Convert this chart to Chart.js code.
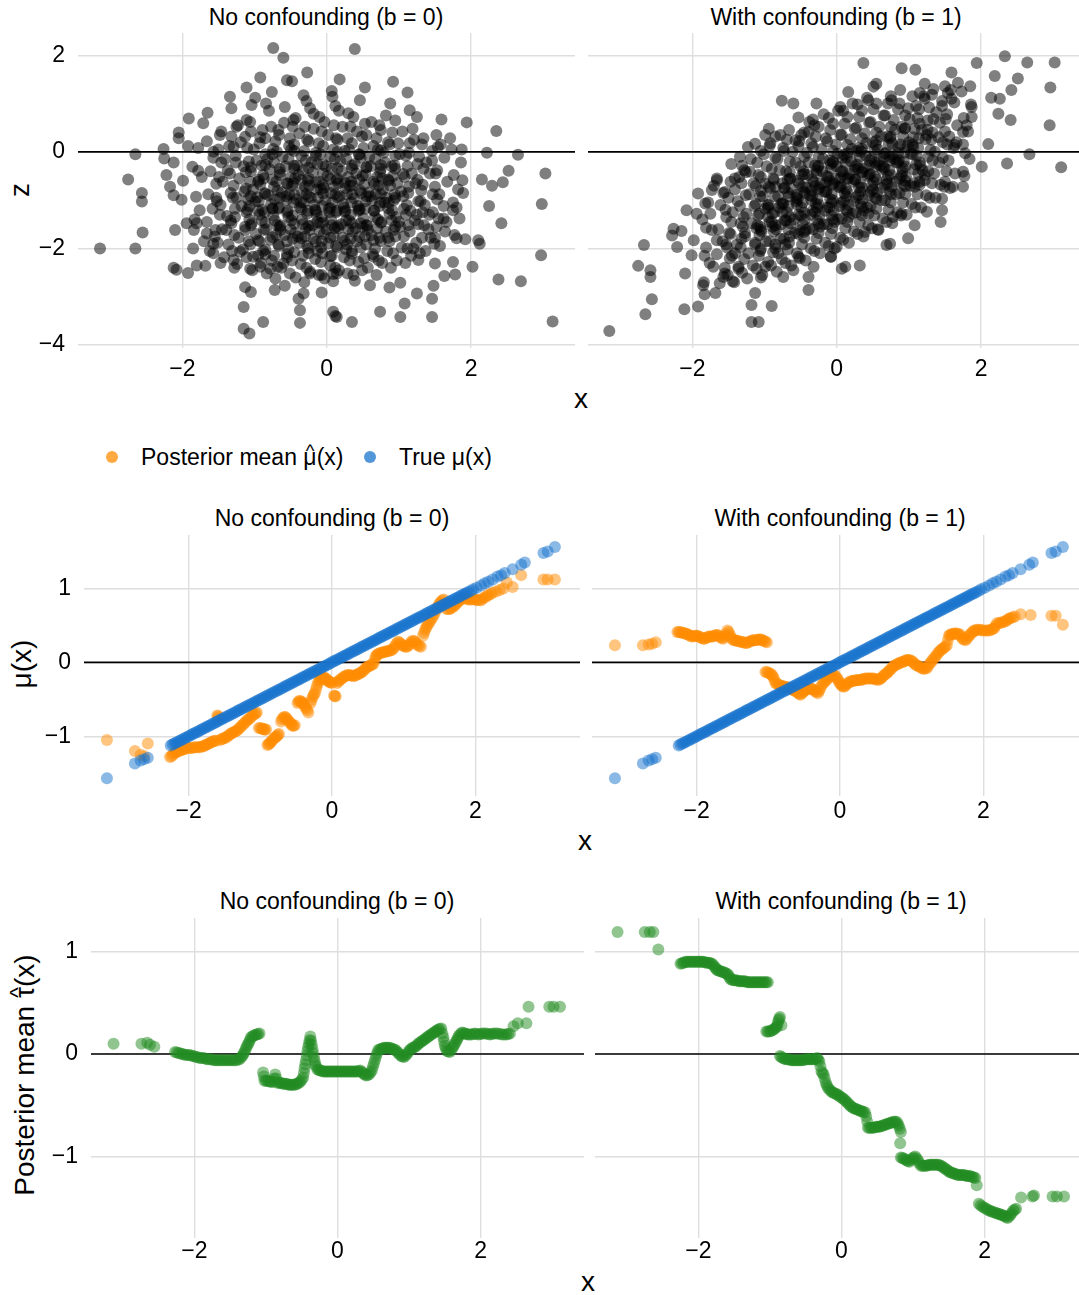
<!DOCTYPE html>
<html>
<head>
<meta charset="utf-8">
<script src="https://cdn.jsdelivr.net/npm/chart.js@4.4.1/dist/chart.umd.min.js"></script>
<style>
  body { margin: 0; width: 1079px; height: 1295px; overflow: hidden; background: #fff; position: relative;
         font-family: "Liberation Sans", Arial, sans-serif; color: #000; }
  .panel { position: absolute; }
  .txt { position: absolute; white-space: nowrap; transform: translate(-50%, -50%); font-size: 23px; line-height: 1; }
  .axt { font-size: 28px; }
  .rot { transform: translate(-50%, -50%) rotate(-90deg); }
  .leg { position: absolute; white-space: nowrap; transform: translate(0, -50%); font-size: 23px; line-height: 1; }
  .dot { position: absolute; width: 12px; height: 12px; border-radius: 50%; transform: translate(-50%, -50%); }
  .hat { position: relative; display: inline-block; }
  .hat i { position: absolute; left: 0; right: 0; top: -0.2em; text-align: center; font-style: normal; font-size: 0.8em; }
</style>
</head>
<body>

<div class="txt" style="left:326px;top:17px">No confounding (b = 0)</div>
<div class="txt" style="left:836px;top:17px">With confounding (b = 1)</div>
<div class="txt axt" style="left:581px;top:399px">x</div>
<div class="txt axt rot" style="left:20px;top:190px">z</div>

<div class="dot" style="left:112px;top:457px;background:rgba(255,140,0,0.75)"></div>
<div class="leg" style="left:141px;top:457px">Posterior mean <span class="hat">μ<i>^</i></span>(x)</div>
<div class="dot" style="left:370px;top:457px;background:rgba(24,116,205,0.75)"></div>
<div class="leg" style="left:399px;top:457px">True μ(x)</div>

<div class="txt" style="left:332px;top:518px">No confounding (b = 0)</div>
<div class="txt" style="left:840px;top:518px">With confounding (b = 1)</div>
<div class="txt axt" style="left:585px;top:841px">x</div>
<div class="txt axt rot" style="left:22px;top:664px">μ(x)</div>

<div class="txt" style="left:337px;top:901px">No confounding (b = 0)</div>
<div class="txt" style="left:841px;top:901px">With confounding (b = 1)</div>
<div class="txt axt" style="left:588px;top:1282px">x</div>
<div class="txt axt rot" style="left:25px;top:1075px">Posterior mean <span class="hat">τ<i>^</i></span>(x)</div>

<script>
// ── Data ──────────────────────────────────────────────────────────────
const xTicks = [-2, 0, 2];
const zTicks = [-4, -2, 0, 2];
const muTicks = [-1, 0, 1];
const tauTicks = [-1, 0, 1];

// top row: (x, z) with b = 0
const zNoConf = [
  [-3.14,-2.0],[-2.65,-2.0],[-2.65,-0.05],[-2.75,-0.57],[-2.56,-0.85],[-2.56,-1.03],[-2.55,-1.67],
  [-2.26,0.06],[-2.25,-0.14],[-2.12,-0.22],[-2.05,0.40],[-2.05,0.28],[-1.92,0.12],[-1.91,0.69],
  [-1.71,0.59],[-1.65,0.81],[-1.78,-0.39],[-2.22,-0.48],[-2.17,-0.72],[-2.12,-0.90],[-2.01,-0.99],
  [-1.99,-0.60],[-2.12,-2.40],[-2.08,-2.44],[-1.92,-2.51],[-1.80,-2.35],[-1.85,-2.0],[-1.94,-1.48],
  [-2.10,-1.62],[-1.68,-2.36],[-1.80,-1.48],[-1.34,1.14],[-1.11,1.33],[-0.92,1.54],[-0.99,1.12],
  [-1.32,0.90],[-1.04,0.97],[-0.74,2.15],[-0.60,1.95],[-0.55,1.48],[-0.48,1.46],[-0.27,1.64],
  [0.18,1.50],[-0.76,1.24],[-0.84,1.00],[-0.32,1.17],[0.08,1.14],[-1.48,0.35],[-1.25,0.52],
  [-1.11,0.66],[-1.13,0.31],[-1.29,0.10],[-1.57,0.0],[-0.58,0.93],[-0.46,0.66],[-0.18,0.79],
  [-1.13,-2.80],[-1.05,-2.90],[-1.15,-3.21],[-1.15,-3.66],[-1.07,-3.76],[-0.88,-3.52],[-0.72,-2.86],
  [-0.58,-2.77],[-0.37,-3.54],[-0.39,-3.04],[-0.37,-3.28],[-0.32,-2.93],[-0.07,-2.91],[0.09,-3.31],
  [0.14,-3.42],[0.35,-3.52],[-0.78,-2.42],[-0.92,-2.38],[-1.06,-2.42],[-1.29,-2.24],[-1.57,-2.10],
  [-1.66,-1.69],[-1.57,-1.90],[-1.39,-1.62],[-1.20,-2.07],[-1.02,-2.17],[-0.60,-2.31],[-0.23,-2.52],
  [-0.07,-2.55],[0.14,-2.52],
  [0.39,2.13],[0.53,1.33],[0.92,1.45],[1.12,1.23],[0.07,1.26],[0.46,1.07],[0.88,1.00],[1.15,0.86],
  [1.25,0.72],[1.59,0.67],[1.94,0.61],[2.35,0.43],[1.52,0.35],[1.71,0.28],[1.87,0.05],[2.22,-0.02],
  [2.65,-0.06],[2.52,-0.39],[2.15,-0.57],[2.29,-0.70],[2.44,-0.63],[3.03,-0.45],[2.98,-1.08],
  [2.25,-1.12],[2.42,-1.48],[1.89,-0.85],[1.88,-0.59],[1.75,-1.21],[1.62,-1.38],[1.80,-1.79],
  [1.92,-1.81],[2.10,-1.83],[2.12,-1.90],[2.02,-2.38],[1.75,-2.28],[1.50,-2.31],[2.38,-2.64],
  [2.69,-2.68],[2.97,-2.14],[3.13,-3.51],[1.48,-2.77],[1.78,-2.54],[1.63,-2.57],[1.46,-3.04],
  [1.46,-3.42],[1.02,-3.42],[0.74,-3.31],[0.12,-3.40],[1.08,-3.14],[1.25,-2.93],[0.60,-2.76],
  [0.87,-2.81],[0.09,-2.53],[0.39,-2.67],[1.02,-2.71],[1.27,-2.24],[1.50,-1.78],[1.20,-2.0],
  [-1.84,-1.62],[-1.76,-1.21],[-1.81,-0.93],[-1.73,-0.52],[-1.86,-0.31],[-1.78,0.08],[-1.70,-1.85],[-1.83,-1.40],
  [-1.62,-2.05],[-1.55,-1.75],[-1.66,-1.45],[-1.58,-1.18],[-1.64,-0.88],[-1.53,-0.66],[-1.61,-0.40],[-1.57,-0.12],[-1.66,0.22],[-1.52,-1.02],
  [-1.42,-2.18],[-1.36,-1.92],[-1.45,-1.60],[-1.38,-1.33],[-1.47,-1.10],[-1.33,-0.85],[-1.44,-0.62],[-1.37,-0.38],[-1.41,-0.15],[-1.35,0.12],[-1.46,0.42],[-1.32,-1.48],
  [-1.24,-2.32],[-1.16,-2.02],[-1.22,-1.78],[-1.13,-1.55],[-1.27,-1.35],[-1.18,-1.12],[-1.25,-0.95],[-1.12,-0.76],[-1.21,-0.55],[-1.15,-0.30],[-1.26,-0.08],[-1.19,0.20],[-1.23,0.55],[-1.11,-1.25],
  [-1.03,-2.45],[-0.95,-2.15],[-1.06,-1.92],[-0.98,-1.70],[-1.04,-1.48],[-0.93,-1.30],[-1.07,-1.12],[-0.96,-0.94],[-1.02,-0.78],[-0.94,-0.58],[-1.05,-0.40],[-0.97,-0.18],[-1.01,0.05],[-0.92,0.30],[-1.06,0.62],[-0.99,-1.02],
  [-0.83,-2.52],[-0.76,-2.25],[-0.85,-2.02],[-0.78,-1.82],[-0.84,-1.60],[-0.72,-1.42],[-0.86,-1.25],[-0.77,-1.08],[-0.81,-0.90],[-0.73,-0.72],[-0.87,-0.55],[-0.79,-0.36],[-0.82,-0.15],[-0.74,0.06],[-0.85,0.28],[-0.77,0.52],[-0.80,0.85],[-0.75,-1.18],
  [-0.63,-2.40],[-0.55,-2.12],[-0.66,-1.95],[-0.58,-1.72],[-0.64,-1.52],[-0.53,-1.35],[-0.67,-1.18],[-0.56,-1.00],[-0.62,-0.84],[-0.54,-0.66],[-0.65,-0.48],[-0.57,-0.30],[-0.61,-0.10],[-0.52,0.12],[-0.66,0.35],[-0.59,0.60],[-0.56,-0.92],[-0.64,-1.62],
  [-0.43,-2.60],[-0.36,-2.32],[-0.45,-2.08],[-0.38,-1.88],[-0.44,-1.68],[-0.33,-1.50],[-0.47,-1.32],[-0.37,-1.15],[-0.42,-0.98],[-0.34,-0.82],[-0.46,-0.65],[-0.39,-0.48],[-0.41,-0.28],[-0.35,-0.08],[-0.45,0.15],[-0.38,0.38],[-0.43,0.70],[-0.36,-1.05],[-0.44,-0.55],[-0.40,-1.75],
  [-0.23,-2.48],[-0.16,-2.22],[-0.25,-2.00],[-0.18,-1.80],[-0.24,-1.62],[-0.13,-1.45],[-0.27,-1.28],[-0.17,-1.10],[-0.22,-0.95],[-0.14,-0.78],[-0.26,-0.60],[-0.19,-0.42],[-0.21,-0.22],[-0.15,-0.02],[-0.25,0.22],[-0.18,0.48],[-0.23,0.90],[-0.16,-1.20],[-0.24,-0.70],[-0.20,-1.52],
  [-0.03,-2.62],[0.05,-2.35],[-0.06,-2.10],[0.02,-1.90],[-0.04,-1.70],[0.07,-1.52],[-0.07,-1.35],[0.03,-1.18],[-0.02,-1.00],[0.06,-0.85],[-0.05,-0.68],[0.01,-0.50],[-0.01,-0.30],[0.05,-0.10],[-0.05,0.12],[0.02,0.35],[-0.03,0.62],[0.04,-1.25],[-0.04,-0.75],[0.00,-1.60],
  [0.17,-2.45],[0.24,-2.18],[0.15,-1.98],[0.22,-1.78],[0.16,-1.58],[0.27,-1.42],[0.13,-1.25],[0.23,-1.08],[0.18,-0.92],[0.26,-0.75],[0.14,-0.58],[0.21,-0.40],[0.19,-0.20],[0.25,0.02],[0.15,0.25],[0.22,0.52],[0.17,0.85],[0.24,-1.15],[0.16,-0.65],[0.20,-1.50],
  [0.37,-2.55],[0.44,-2.28],[0.35,-2.05],[0.42,-1.85],[0.36,-1.65],[0.47,-1.48],[0.33,-1.30],[0.43,-1.12],[0.38,-0.96],[0.46,-0.80],[0.34,-0.62],[0.41,-0.45],[0.39,-0.25],[0.45,-0.05],[0.35,0.18],[0.42,0.42],[0.37,0.72],[0.44,-1.22],[0.36,-0.70],[0.40,-1.58],
  [0.57,-2.40],[0.64,-2.12],[0.55,-1.92],[0.62,-1.72],[0.56,-1.52],[0.67,-1.35],[0.53,-1.18],[0.63,-1.00],[0.58,-0.84],[0.66,-0.66],[0.54,-0.48],[0.61,-0.30],[0.59,-0.10],[0.65,0.12],[0.55,0.35],[0.62,0.62],[0.60,-0.92],[0.57,-1.62],
  [0.77,-2.30],[0.84,-2.05],[0.75,-1.85],[0.82,-1.65],[0.76,-1.45],[0.87,-1.28],[0.73,-1.12],[0.83,-0.95],[0.78,-0.78],[0.86,-0.60],[0.74,-0.42],[0.81,-0.22],[0.79,-0.02],[0.85,0.20],[0.75,0.45],[0.82,0.75],[0.80,-1.05],[0.77,-0.55],
  [0.97,-2.25],[1.04,-1.98],[0.95,-1.75],[1.02,-1.55],[0.96,-1.35],[1.07,-1.18],[0.93,-1.00],[1.03,-0.82],[0.98,-0.65],[1.06,-0.46],[0.94,-0.28],[1.01,-0.05],[0.99,0.18],[1.05,0.42],[0.95,0.65],[1.00,-1.45],
  [1.17,-2.15],[1.24,-1.88],[1.15,-1.65],[1.22,-1.42],[1.16,-1.22],[1.27,-1.02],[1.13,-0.85],[1.23,-0.65],[1.18,-0.45],[1.26,-0.25],[1.14,-0.02],[1.21,0.25],[1.19,0.48],[1.25,-1.30],
  [1.37,-2.05],[1.44,-1.78],[1.35,-1.52],[1.42,-1.30],[1.36,-1.10],[1.47,-0.88],[1.33,-0.68],[1.43,-0.45],[1.38,-0.22],[1.46,0.02],[1.34,0.28],[1.41,-1.60],
  [1.57,-1.95],[1.64,-1.65],[1.55,-1.38],[1.62,-1.12],[1.56,-0.88],[1.67,-0.62],[1.53,-0.38],[1.63,-0.12],[1.58,0.15],[1.66,-1.45],
  [1.77,-1.72],[1.84,-1.38],[1.75,-1.05],[1.82,-0.78],[1.76,-0.48],[1.86,-0.22],[1.73,0.05],[1.80,-1.15],
  [-1.51,-1.88],[-1.48,-1.30],[-1.53,-0.95],[-1.49,-0.52],[-1.46,-0.22],[-1.54,-1.62],[-1.50,0.05],[-1.47,-2.30],
  [-1.31,-2.05],[-1.28,-1.72],[-1.33,-1.42],[-1.27,-1.18],[-1.30,-0.95],[-1.29,-0.70],[-1.34,-0.45],[-1.26,-0.22],[-1.32,0.32],[-1.28,-2.40],
  [-1.11,-2.18],[-1.08,-1.85],[-1.13,-1.62],[-1.07,-1.40],[-1.10,-1.20],[-1.09,-0.98],[-1.14,-0.82],[-1.06,-0.62],[-1.12,-0.42],[-1.08,-0.20],[-1.10,0.08],[-1.05,0.42],
  [-0.91,-2.30],[-0.88,-2.05],[-0.93,-1.85],[-0.87,-1.62],[-0.90,-1.42],[-0.89,-1.20],[-0.94,-1.02],[-0.86,-0.85],[-0.92,-0.68],[-0.88,-0.48],[-0.90,-0.28],[-0.85,-0.05],[-0.93,0.18],[-0.89,0.45],
  [-0.71,-2.62],[-0.68,-2.38],[-0.73,-2.15],[-0.67,-1.92],[-0.70,-1.72],[-0.69,-1.52],[-0.74,-1.32],[-0.66,-1.15],[-0.72,-0.98],[-0.68,-0.80],[-0.70,-0.62],[-0.65,-0.42],[-0.73,-0.22],[-0.69,0.00],[-0.71,0.22],[-0.67,0.45],
  [-0.51,-2.52],[-0.48,-2.25],[-0.53,-2.02],[-0.47,-1.80],[-0.50,-1.60],[-0.49,-1.42],[-0.54,-1.22],[-0.46,-1.05],[-0.52,-0.88],[-0.48,-0.70],[-0.50,-0.52],[-0.45,-0.35],[-0.53,-0.15],[-0.49,0.05],[-0.51,0.28],[-0.47,0.52],
  [-0.31,-2.70],[-0.28,-2.40],[-0.33,-2.15],[-0.27,-1.95],[-0.30,-1.75],[-0.29,-1.58],[-0.34,-1.40],[-0.26,-1.22],[-0.32,-1.05],[-0.28,-0.88],[-0.30,-0.72],[-0.25,-0.55],[-0.33,-0.38],[-0.29,-0.18],[-0.31,0.02],[-0.27,0.25],[-0.30,0.52],[-0.28,1.05],
  [-0.11,-2.55],[-0.08,-2.28],[-0.13,-2.05],[-0.07,-1.85],[-0.10,-1.65],[-0.09,-1.48],[-0.14,-1.30],[-0.06,-1.12],[-0.12,-0.95],[-0.08,-0.78],[-0.10,-0.62],[-0.05,-0.45],[-0.13,-0.25],[-0.09,-0.05],[-0.11,0.18],[-0.07,0.42],[-0.10,0.72],[-0.08,-1.98],
  [0.09,-2.68],[0.12,-2.40],[0.07,-2.15],[0.13,-1.95],[0.10,-1.75],[0.11,-1.58],[0.06,-1.40],[0.14,-1.22],[0.08,-1.05],[0.12,-0.88],[0.10,-0.72],[0.15,-0.55],[0.07,-0.35],[0.11,-0.15],[0.09,0.05],[0.13,0.28],[0.10,0.55],[0.12,0.95],
  [0.29,-2.52],[0.32,-2.25],[0.27,-2.02],[0.33,-1.80],[0.30,-1.60],[0.31,-1.42],[0.26,-1.22],[0.34,-1.05],[0.28,-0.88],[0.32,-0.70],[0.30,-0.52],[0.35,-0.35],[0.27,-0.15],[0.31,0.05],[0.29,0.28],[0.33,0.52],[0.30,0.80],[0.28,-1.92],
  [0.49,-2.45],[0.52,-2.20],[0.47,-1.98],[0.53,-1.75],[0.50,-1.55],[0.51,-1.38],[0.46,-1.20],[0.54,-1.02],[0.48,-0.85],[0.52,-0.68],[0.50,-0.50],[0.55,-0.32],[0.47,-0.12],[0.51,0.08],[0.49,0.32],[0.53,0.58],
  [0.69,-2.55],[0.72,-2.25],[0.67,-2.00],[0.73,-1.78],[0.70,-1.58],[0.71,-1.40],[0.66,-1.22],[0.74,-1.05],[0.68,-0.88],[0.72,-0.70],[0.70,-0.52],[0.75,-0.35],[0.67,-0.15],[0.71,0.05],[0.69,0.28],[0.73,0.55],
  [0.89,-2.40],[0.92,-2.10],[0.87,-1.85],[0.93,-1.62],[0.90,-1.42],[0.91,-1.22],[0.86,-1.05],[0.94,-0.88],[0.88,-0.70],[0.92,-0.50],[0.90,-0.30],[0.95,-0.08],[0.87,0.15],[0.91,0.40],
  [1.09,-2.30],[1.12,-2.00],[1.07,-1.75],[1.13,-1.52],[1.10,-1.30],[1.11,-1.10],[1.06,-0.92],[1.14,-0.72],[1.08,-0.52],[1.12,-0.30],[1.10,-0.08],[1.15,0.18],
  [1.29,-2.10],[1.32,-1.78],[1.27,-1.50],[1.33,-1.25],[1.30,-1.02],[1.31,-0.80],[1.26,-0.58],[1.34,-0.35],[1.28,-0.10],[1.32,0.15],
  [1.49,-1.90],[1.52,-1.55],[1.47,-1.25],[1.53,-0.98],[1.50,-0.72],[1.51,-0.45],[1.46,-0.18],[1.54,0.10],
  [-0.95,-1.83],[-0.75,-1.77],[-0.55,-1.85],[-0.35,-1.79],[-0.15,-1.86],[0.05,-1.78],[0.25,-1.84],[0.45,-1.76],[0.65,-1.83],[0.85,-1.78],
  [-1.05,-1.52],[-0.85,-1.47],[-0.65,-1.55],[-0.45,-1.49],[-0.25,-1.53],[-0.05,-1.46],[0.15,-1.54],[0.35,-1.48],[0.55,-1.52],[0.75,-1.47],[0.95,-1.55],
  [-0.95,-1.22],[-0.75,-1.17],[-0.55,-1.25],[-0.35,-1.19],[-0.15,-1.23],[0.05,-1.16],[0.25,-1.24],[0.45,-1.18],[0.65,-1.22],[0.85,-1.17],
  [-1.05,-0.92],[-0.85,-0.87],[-0.65,-0.95],[-0.45,-0.89],[-0.25,-0.93],[-0.05,-0.86],[0.15,-0.94],[0.35,-0.88],[0.55,-0.92],[0.75,-0.87],[0.95,-0.95],
  [-0.95,-0.62],[-0.75,-0.57],[-0.55,-0.65],[-0.35,-0.59],[-0.15,-0.63],[0.05,-0.56],[0.25,-0.64],[0.45,-0.58],[0.65,-0.62],[0.85,-0.57],
  [-1.05,-0.32],[-0.85,-0.27],[-0.65,-0.35],[-0.45,-0.29],[-0.25,-0.33],[-0.05,-0.26],[0.15,-0.34],[0.35,-0.28],[0.55,-0.32],[0.75,-0.27],[0.95,-0.35],
  [-0.85,-2.12],[-0.55,-2.18],[-0.25,-2.10],[0.05,-2.16],[0.35,-2.11],[0.65,-2.17],
  [-0.75,-0.05],[-0.45,0.02],[-0.15,-0.08],[0.15,0.00],[0.45,-0.06],[0.75,0.03]
];

// top row: (x, z) with b = 1
const zConf = [
  [-3.15,-3.71],[-2.65,-3.36],[-2.75,-2.36],[-2.67,-1.93],[-2.58,-2.45],[-2.58,-2.59],[-2.56,-3.05],
  [-2.26,-1.59],[-2.15,-1.64],[-2.28,-1.73],[-2.21,-1.97],[-2.10,-2.52],[-2.11,-3.26],[-1.92,-3.20],
  [-1.83,-2.95],[-1.85,-2.76],[-1.68,-2.92],[-1.98,-1.83],[-2.01,-2.14],[-2.08,-1.21],[-1.94,-1.28],
  [-1.92,-0.86],[-1.81,-1.57],[-1.73,-0.79],[-1.66,-0.59],[-1.82,-1.07],[-1.75,-1.28],[-1.66,-1.83],
  [-1.71,-2.38],[-1.57,-2.59],[-1.44,-2.68],[-1.18,-3.17],[-0.90,-3.19],[-1.18,-3.52],[-1.08,-3.52],
  [-1.05,-2.60],[-1.13,-2.92],[-1.34,-0.10],[-1.31,-0.29],[-1.13,0.17],[-0.99,0.35],[-0.94,0.48],
  [-0.78,0.35],[-0.76,1.06],[-0.60,1.00],[-0.53,0.71],[-0.33,0.67],[-0.28,1.00],[-0.57,0.24],
  [-0.39,0.41],[-1.55,-0.83],[-1.41,-0.55],[-1.20,-0.41],[-0.99,-0.66],[-0.74,-2.59],[-0.39,-2.59],
  [-0.39,-2.86],[-0.32,-2.38],[-0.08,-2.17],[-0.81,-2.10],[-1.36,-2.38],[-1.55,-2.52],[-1.41,-2.10],
  [-0.53,-2.17],[-0.60,-2.45],[-0.99,-2.38],
  [0.37,1.84],[0.90,1.73],[1.09,1.70],[1.59,1.64],[1.94,1.84],[2.33,1.98],[2.64,1.85],[3.02,1.85],
  [2.19,1.57],[2.51,1.52],[2.96,1.33],[2.42,1.28],[2.14,1.12],[2.26,1.10],[2.24,0.79],[2.41,0.66],
  [2.95,0.55],[2.10,0.16],[2.01,-0.31],[2.36,-0.24],[2.67,-0.05],[3.11,-0.32],[1.68,1.43],[1.85,1.36],
  [1.87,0.93],[1.87,0.72],[1.75,0.41],[1.78,-0.03],[1.75,-0.41],[1.75,-0.72],[1.61,-0.72],[1.46,-0.97],
  [1.46,-1.21],[1.44,-1.45],[1.25,-1.24],[1.08,-1.52],[0.99,-1.79],[0.74,-1.90],[0.69,-1.93],
  [0.32,-2.35],[0.12,-2.38],[0.07,-2.42],[-0.08,-2.17],[0.0,-1.97],[0.55,1.41],[0.51,1.35],[0.16,1.24],
  [0.88,1.28],[1.22,1.41],[1.50,1.36],[1.59,1.10],[1.22,1.10],[0.76,1.07],[0.44,1.07],[0.05,0.93],
  [1.63,0.14],[1.50,-0.62],[1.22,-0.59],[1.08,-0.72],[0.78,-1.35],[0.58,-1.62],[0.39,-1.66],
  [0.90,-1.28],[0.44,-1.28],
  [-1.84,-2.70],[-1.76,-2.30],[-1.81,-1.98],[-1.73,-1.62],[-1.86,-1.40],[-1.78,-1.05],[-1.70,-0.70],[-1.83,-2.15],
  [-1.62,-2.72],[-1.55,-2.40],[-1.66,-2.12],[-1.58,-1.85],[-1.64,-1.60],[-1.53,-1.35],[-1.61,-1.10],[-1.57,-0.85],[-1.66,-0.55],[-1.52,-1.98],
  [-1.42,-2.70],[-1.36,-2.42],[-1.45,-2.15],[-1.38,-1.92],[-1.47,-1.70],[-1.33,-1.48],[-1.44,-1.25],[-1.37,-1.02],[-1.41,-0.78],[-1.35,-0.52],[-1.46,-0.25],[-1.32,-1.80],
  [-1.24,-2.62],[-1.16,-2.35],[-1.22,-2.10],[-1.13,-1.88],[-1.27,-1.68],[-1.18,-1.48],[-1.25,-1.28],[-1.12,-1.08],[-1.21,-0.88],[-1.15,-0.65],[-1.26,-0.42],[-1.19,-0.15],[-1.23,0.10],[-1.11,-1.58],
  [-1.03,-2.55],[-0.95,-2.28],[-1.06,-2.05],[-0.98,-1.85],[-1.04,-1.65],[-0.93,-1.45],[-1.07,-1.28],[-0.96,-1.10],[-1.02,-0.92],[-0.94,-0.72],[-1.05,-0.52],[-0.97,-0.30],[-1.01,-0.05],[-0.92,0.18],[-1.06,-1.55],[-0.99,-1.18],
  [-0.83,-2.48],[-0.76,-2.22],[-0.85,-2.00],[-0.78,-1.80],[-0.84,-1.60],[-0.72,-1.42],[-0.86,-1.25],[-0.77,-1.08],[-0.81,-0.92],[-0.73,-0.75],[-0.87,-0.58],[-0.79,-0.38],[-0.82,-0.15],[-0.74,0.08],[-0.85,0.32],[-0.77,-1.50],[-0.80,-1.15],[-0.75,-0.65],
  [-0.63,-2.35],[-0.55,-2.10],[-0.66,-1.88],[-0.58,-1.68],[-0.64,-1.48],[-0.53,-1.30],[-0.67,-1.12],[-0.56,-0.95],[-0.62,-0.78],[-0.54,-0.60],[-0.65,-0.42],[-0.57,-0.22],[-0.61,0.00],[-0.52,0.22],[-0.66,0.45],[-0.59,-1.40],[-0.56,-1.02],[-0.64,-0.55],
  [-0.43,-2.25],[-0.36,-2.00],[-0.45,-1.78],[-0.38,-1.58],[-0.44,-1.40],[-0.33,-1.22],[-0.47,-1.05],[-0.37,-0.90],[-0.42,-0.74],[-0.34,-0.58],[-0.46,-0.40],[-0.39,-0.22],[-0.41,-0.02],[-0.35,0.18],[-0.45,0.40],[-0.38,0.62],[-0.36,-1.30],[-0.44,-0.85],[-0.40,-0.48],[-0.43,-1.62],
  [-0.23,-2.10],[-0.16,-1.88],[-0.25,-1.68],[-0.18,-1.50],[-0.24,-1.32],[-0.13,-1.15],[-0.27,-0.98],[-0.17,-0.82],[-0.22,-0.66],[-0.14,-0.50],[-0.26,-0.32],[-0.19,-0.14],[-0.21,0.06],[-0.15,0.28],[-0.25,0.52],[-0.18,0.78],[-0.16,-1.22],[-0.24,-0.75],[-0.20,-0.40],[-0.23,-1.55],
  [-0.03,-2.00],[0.05,-1.78],[-0.06,-1.58],[0.02,-1.40],[-0.04,-1.22],[0.07,-1.05],[-0.07,-0.88],[0.03,-0.72],[-0.02,-0.56],[0.06,-0.40],[-0.05,-0.22],[0.01,-0.04],[-0.01,0.15],[0.05,0.36],[-0.05,0.58],[0.02,0.85],[0.04,-1.12],[-0.04,-0.65],[0.00,-0.30],[-0.03,-1.45],
  [0.17,-1.88],[0.24,-1.65],[0.15,-1.45],[0.22,-1.28],[0.16,-1.10],[0.27,-0.94],[0.13,-0.78],[0.23,-0.62],[0.18,-0.46],[0.26,-0.30],[0.14,-0.12],[0.21,0.06],[0.19,0.26],[0.25,0.48],[0.15,0.72],[0.22,1.00],[0.24,-1.02],[0.16,-0.55],[0.20,-0.20],[0.17,-1.35],
  [0.37,-1.75],[0.44,-1.52],[0.35,-1.32],[0.42,-1.15],[0.36,-0.98],[0.47,-0.82],[0.33,-0.66],[0.43,-0.50],[0.38,-0.34],[0.46,-0.18],[0.34,0.00],[0.41,0.18],[0.39,0.38],[0.45,0.60],[0.35,0.85],[0.42,1.12],[0.44,-0.90],[0.36,-0.42],[0.40,-0.08],[0.37,-1.22],
  [0.57,-1.60],[0.64,-1.38],[0.55,-1.18],[0.62,-1.00],[0.56,-0.84],[0.67,-0.68],[0.53,-0.52],[0.63,-0.36],[0.58,-0.20],[0.66,-0.04],[0.54,0.14],[0.61,0.32],[0.59,0.52],[0.65,0.75],[0.55,1.00],[0.62,-0.75],[0.60,-0.28],[0.57,0.05],
  [0.77,-1.48],[0.84,-1.25],[0.75,-1.05],[0.82,-0.88],[0.76,-0.72],[0.87,-0.55],[0.73,-0.38],[0.83,-0.22],[0.78,-0.06],[0.86,0.10],[0.74,0.28],[0.81,0.46],[0.79,0.66],[0.85,0.88],[0.75,1.15],[0.82,-0.62],[0.80,-0.15],[0.77,0.18],
  [0.97,-1.30],[1.04,-1.08],[0.95,-0.88],[1.02,-0.70],[0.96,-0.52],[1.07,-0.36],[0.93,-0.20],[1.03,-0.04],[0.98,0.12],[1.06,0.30],[0.94,0.48],[1.01,0.68],[0.99,0.90],[1.05,1.15],[0.95,-0.60],[1.00,0.20],
  [1.17,-1.15],[1.24,-0.90],[1.15,-0.68],[1.22,-0.48],[1.16,-0.28],[1.27,-0.10],[1.13,0.08],[1.23,0.26],[1.18,0.45],[1.26,0.65],[1.14,0.88],[1.21,1.15],[1.19,-0.38],[1.25,0.35],
  [1.37,-0.95],[1.44,-0.68],[1.35,-0.45],[1.42,-0.22],[1.36,0.00],[1.47,0.20],[1.33,0.40],[1.43,0.60],[1.38,0.82],[1.46,1.05],[1.34,1.30],[1.41,0.30],
  [1.57,-0.75],[1.64,-0.45],[1.55,-0.18],[1.62,0.08],[1.56,0.32],[1.67,0.55],[1.53,0.78],[1.63,1.02],[1.58,1.28],[1.66,0.20],
  [1.77,-0.50],[1.84,-0.15],[1.75,0.15],[1.82,0.42],[1.76,0.70],[1.86,0.98],[1.73,1.25],[1.80,0.55],
  [-1.51,-2.55],[-1.48,-2.20],[-1.53,-1.92],[-1.49,-1.68],[-1.46,-1.45],[-1.54,-1.20],[-1.50,-0.95],[-1.47,-0.62],
  [-1.31,-2.50],[-1.28,-2.22],[-1.33,-1.98],[-1.27,-1.75],[-1.30,-1.55],[-1.29,-1.35],[-1.34,-1.12],[-1.26,-0.90],[-1.32,-0.65],[-1.28,-0.38],
  [-1.11,-2.42],[-1.08,-2.15],[-1.13,-1.92],[-1.07,-1.72],[-1.10,-1.52],[-1.09,-1.32],[-1.14,-1.12],[-1.06,-0.92],[-1.12,-0.70],[-1.08,-0.48],[-1.10,-0.22],[-1.05,0.02],
  [-0.91,-2.35],[-0.88,-2.08],[-0.93,-1.85],[-0.87,-1.65],[-0.90,-1.45],[-0.89,-1.28],[-0.94,-1.10],[-0.86,-0.92],[-0.92,-0.75],[-0.88,-0.55],[-0.90,-0.35],[-0.85,-0.12],[-0.93,0.12],[-0.89,-1.55],
  [-0.71,-2.30],[-0.68,-2.02],[-0.73,-1.80],[-0.67,-1.60],[-0.70,-1.42],[-0.69,-1.25],[-0.74,-1.08],[-0.66,-0.92],[-0.72,-0.75],[-0.68,-0.58],[-0.70,-0.40],[-0.65,-0.20],[-0.73,0.02],[-0.69,0.25],[-0.71,-1.92],[-0.67,-0.85],
  [-0.51,-2.20],[-0.48,-1.92],[-0.53,-1.70],[-0.47,-1.50],[-0.50,-1.32],[-0.49,-1.15],[-0.54,-0.98],[-0.46,-0.82],[-0.52,-0.65],[-0.48,-0.48],[-0.50,-0.30],[-0.45,-0.10],[-0.53,0.12],[-0.49,0.35],[-0.51,-1.62],[-0.47,-0.72],
  [-0.31,-2.05],[-0.28,-1.80],[-0.33,-1.60],[-0.27,-1.42],[-0.30,-1.25],[-0.29,-1.08],[-0.34,-0.92],[-0.26,-0.78],[-0.32,-0.62],[-0.28,-0.45],[-0.30,-0.28],[-0.25,-0.10],[-0.33,0.10],[-0.29,0.32],[-0.31,0.55],[-0.27,-1.15],[-0.30,-0.70],[-0.28,-0.38],
  [-0.11,-1.95],[-0.08,-1.70],[-0.13,-1.50],[-0.07,-1.32],[-0.10,-1.15],[-0.09,-0.98],[-0.14,-0.82],[-0.06,-0.68],[-0.12,-0.52],[-0.08,-0.35],[-0.10,-0.18],[-0.05,0.02],[-0.13,0.22],[-0.09,0.45],[-0.11,0.70],[-0.07,-1.05],[-0.10,-0.60],[-0.08,-0.25],
  [0.09,-1.82],[0.12,-1.58],[0.07,-1.38],[0.13,-1.20],[0.10,-1.02],[0.11,-0.86],[0.06,-0.70],[0.14,-0.55],[0.08,-0.40],[0.12,-0.24],[0.10,-0.06],[0.15,0.14],[0.07,0.35],[0.11,0.58],[0.09,0.85],[0.13,-0.92],[0.10,-0.48],[0.08,-0.12],
  [0.29,-1.70],[0.32,-1.45],[0.27,-1.25],[0.33,-1.08],[0.30,-0.90],[0.31,-0.74],[0.26,-0.58],[0.34,-0.42],[0.28,-0.26],[0.32,-0.10],[0.30,0.08],[0.35,0.28],[0.27,0.50],[0.31,0.72],[0.29,0.98],[0.33,-0.82],[0.30,-0.35],[0.28,0.02],
  [0.49,-1.58],[0.52,-1.32],[0.47,-1.12],[0.53,-0.95],[0.50,-0.78],[0.51,-0.62],[0.46,-0.46],[0.54,-0.30],[0.48,-0.14],[0.52,0.02],[0.50,0.20],[0.55,0.40],[0.47,0.62],[0.51,0.88],[0.49,-0.70],[0.53,-0.22],
  [0.69,-1.45],[0.72,-1.20],[0.67,-1.00],[0.73,-0.82],[0.70,-0.66],[0.71,-0.50],[0.66,-0.34],[0.74,-0.18],[0.68,-0.02],[0.72,0.15],[0.70,0.32],[0.75,0.52],[0.67,0.75],[0.71,1.00],[0.69,-0.58],[0.73,-0.10],
  [0.89,-1.32],[0.92,-1.05],[0.87,-0.85],[0.93,-0.68],[0.90,-0.50],[0.91,-0.34],[0.86,-0.18],[0.94,-0.02],[0.88,0.15],[0.92,0.32],[0.90,0.52],[0.95,0.75],[0.87,1.00],[0.91,-0.42],
  [1.09,-1.15],[1.12,-0.88],[1.07,-0.65],[1.13,-0.45],[1.10,-0.26],[1.11,-0.08],[1.06,0.10],[1.14,0.28],[1.08,0.48],[1.12,0.70],[1.10,0.95],[1.15,1.22],
  [1.29,-0.95],[1.32,-0.65],[1.27,-0.40],[1.33,-0.18],[1.30,0.04],[1.31,0.25],[1.26,0.46],[1.34,0.68],[1.28,0.92],[1.32,1.18],
  [1.49,-0.72],[1.52,-0.40],[1.47,-0.12],[1.53,0.15],[1.50,0.42],[1.51,0.68],[1.46,0.95],[1.54,1.22],
  [-1.05,-2.01],[-0.85,-1.92],[-0.65,-1.75],[-0.45,-1.66],[-0.25,-1.49],[-0.05,-1.40],[0.15,-1.23],[0.35,-1.14],[0.55,-0.97],[0.75,-0.88],[0.95,-0.71],[1.15,-0.62],
  [-1.05,-1.61],[-0.85,-1.52],[-0.65,-1.35],[-0.45,-1.26],[-0.25,-1.09],[-0.05,-1.00],[0.15,-0.83],[0.35,-0.74],[0.55,-0.57],[0.75,-0.48],[0.95,-0.31],[1.15,-0.22],
  [-0.95,-1.35],[-0.75,-1.26],[-0.55,-1.09],[-0.35,-1.00],[-0.15,-0.83],[0.05,-0.74],[0.25,-0.57],[0.45,-0.48],[0.65,-0.31],[0.85,-0.22],[1.05,-0.05],
  [-0.95,-1.15],[-0.75,-1.06],[-0.55,-0.89],[-0.35,-0.80],[-0.15,-0.63],[0.05,-0.54],[0.25,-0.37],[0.45,-0.28],[0.65,-0.11],[0.85,-0.02],[1.05,0.15],
  [-1.05,-0.81],[-0.85,-0.72],[-0.65,-0.55],[-0.45,-0.46],[-0.25,-0.29],[-0.05,-0.20],[0.15,-0.03],[0.35,0.06],[0.55,0.23],[0.75,0.32],[0.95,0.49],[1.15,0.58]
];

// middle row: true mu(x), same in both panels
const trueMu = [
  [-3.14,-1.57],[-2.75,-1.37],[-2.67,-1.33],[-2.62,-1.31],[-2.57,-1.29],
  [-2.25,-1.125],[-2.2,-1.1],[-2.15,-1.075],[-2.1,-1.05],[-2.05,-1.025],[-2,-1],[-1.95,-0.975],[-1.9,-0.95],
  [-1.85,-0.925],[-1.8,-0.9],[-1.75,-0.875],[-1.7,-0.85],[-1.65,-0.825],[-1.6,-0.8],[-1.55,-0.775],[-1.5,-0.75],
  [-1.45,-0.725],[-1.4,-0.7],[-1.35,-0.675],[-1.3,-0.65],[-1.25,-0.625],[-1.2,-0.6],[-1.15,-0.575],[-1.1,-0.55],
  [-1.05,-0.525],[-1,-0.5],[-0.95,-0.475],[-0.9,-0.45],[-0.85,-0.425],[-0.8,-0.4],[-0.75,-0.375],[-0.7,-0.35],
  [-0.65,-0.325],[-0.6,-0.3],[-0.55,-0.275],[-0.5,-0.25],[-0.45,-0.225],[-0.4,-0.2],[-0.35,-0.175],[-0.3,-0.15],
  [-0.25,-0.125],[-0.2,-0.1],[-0.15,-0.075],[-0.1,-0.05],[-0.05,-0.025],[0,0],[0.05,0.025],[0.1,0.05],
  [0.15,0.075],[0.2,0.1],[0.25,0.125],[0.3,0.15],[0.35,0.175],[0.4,0.2],[0.45,0.225],[0.5,0.25],[0.55,0.275],
  [0.6,0.3],[0.65,0.325],[0.7,0.35],[0.75,0.375],[0.8,0.4],[0.85,0.425],[0.9,0.45],[0.95,0.475],[1,0.5],
  [1.05,0.525],[1.1,0.55],[1.15,0.575],[1.2,0.6],[1.25,0.625],[1.3,0.65],[1.35,0.675],[1.4,0.7],[1.45,0.725],
  [1.5,0.75],[1.55,0.775],[1.6,0.8],[1.65,0.825],[1.7,0.85],[1.75,0.875],[1.8,0.9],[1.85,0.925],[1.9,0.95],
  [1.94,0.97],[1.97,0.99],[2.02,1.01],[2.08,1.04],[2.13,1.07],[2.18,1.09],[2.24,1.12],[2.31,1.16],[2.36,1.18],
  [2.41,1.21],[2.52,1.26],[2.64,1.32],[2.69,1.35],[2.95,1.48],[3.01,1.50],[3.11,1.56],
  [-2.225,-1.113],[-2.175,-1.088],[-2.125,-1.063],[-2.075,-1.038],[-2.025,-1.013],[-1.975,-0.988],[-1.925,-0.963],
  [-1.875,-0.938],[-1.825,-0.913],[-1.775,-0.888],[-1.725,-0.863],[-1.675,-0.838],[-1.625,-0.813],[-1.575,-0.788],
  [-1.525,-0.763],[-1.475,-0.738],[-1.425,-0.713],[-1.375,-0.688],[-1.325,-0.663],[-1.275,-0.638],[-1.225,-0.613],
  [-1.175,-0.588],[-1.125,-0.563],[-1.075,-0.538],[-1.025,-0.513],[-0.975,-0.488],[-0.925,-0.463],[-0.875,-0.438],
  [-0.825,-0.413],[-0.775,-0.388],[-0.725,-0.363],[-0.675,-0.338],[-0.625,-0.313],[-0.575,-0.288],[-0.525,-0.263],
  [-0.475,-0.238],[-0.425,-0.213],[-0.375,-0.188],[-0.325,-0.163],[-0.275,-0.138],[-0.225,-0.113],[-0.175,-0.088],
  [-0.125,-0.063],[-0.075,-0.038],[-0.025,-0.013],[0.025,0.013],[0.075,0.038],[0.125,0.063],[0.175,0.088],
  [0.225,0.113],[0.275,0.138],[0.325,0.163],[0.375,0.188],[0.425,0.213],[0.475,0.238],[0.525,0.263],[0.575,0.288],
  [0.625,0.313],[0.675,0.338],[0.725,0.363],[0.775,0.388],[0.825,0.413],[0.875,0.438],[0.925,0.463],[0.975,0.488],
  [1.025,0.513],[1.075,0.538],[1.125,0.563],[1.175,0.588],[1.225,0.613],[1.275,0.638],[1.325,0.663],[1.375,0.688],
  [1.425,0.713],[1.475,0.738],[1.525,0.763],[1.575,0.788],[1.625,0.813],[1.675,0.838],[1.725,0.863],[1.775,0.888],
  [1.825,0.913],[1.875,0.938]
];

// middle row: posterior mean mu-hat(x), b = 0
const muHatNoConf = [
  [-3.14,-1.05],[-2.75,-1.20],[-2.67,-1.25],[-2.62,-1.27],[-2.57,-1.10],
  [-2.26,-1.28],[-2.22,-1.25],[-2.18,-1.22],[-2.14,-1.20],[-2.10,-1.19],[-2.05,-1.17],[-2.00,-1.16],[-1.95,-1.16],
  [-1.90,-1.15],[-1.85,-1.15],[-1.80,-1.14],[-1.76,-1.12],[-1.72,-1.10],[-1.68,-1.08],[-1.64,-1.06],[-1.60,-0.72],
  [-1.58,-0.75],[-1.56,-1.05],[-1.52,-1.03],[-1.48,-1.02],[-1.44,-0.99],[-1.40,-0.96],[-1.36,-0.94],[-1.32,-0.92],
  [-1.28,-0.88],[-1.24,-0.84],[-1.20,-0.80],[-1.16,-0.77],[-1.12,-0.73],[-1.08,-0.70],[-1.05,-0.68],[-1.02,-0.89],
  [-0.98,-0.90],[-0.95,-0.91],[-0.92,-0.91],[-0.90,-1.12],[-0.87,-1.10],[-0.84,-1.06],[-0.80,-1.02],[-0.77,-1.00],
  [-0.74,-0.97],[-0.71,-0.80],[-0.68,-0.75],[-0.65,-0.74],[-0.62,-0.78],[-0.58,-0.82],[-0.55,-0.86],[-0.52,-0.85],
  [-0.48,-0.55],[-0.45,-0.52],[-0.42,-0.54],[-0.39,-0.57],[-0.36,-0.62],[-0.33,-0.68],[-0.30,-0.55],[-0.27,-0.47],
  [-0.24,-0.42],[-0.21,-0.32],[-0.18,-0.25],[-0.15,-0.22],[-0.12,-0.20],[-0.09,-0.22],[-0.06,-0.25],[-0.03,-0.27],
  [0.00,-0.28],[0.03,-0.45],[0.05,-0.46],[0.07,-0.28],[0.10,-0.25],[0.14,-0.22],[0.18,-0.19],[0.22,-0.17],
  [0.26,-0.18],[0.30,-0.19],[0.34,-0.17],[0.38,-0.15],[0.42,-0.13],[0.46,-0.09],[0.50,-0.06],[0.54,-0.04],
  [0.58,-0.02],[0.61,0.08],[0.64,0.11],[0.68,0.13],[0.72,0.14],[0.76,0.15],[0.80,0.16],[0.84,0.17],[0.88,0.22],
  [0.92,0.28],[0.96,0.25],[1.00,0.22],[1.04,0.21],[1.08,0.24],[1.12,0.29],[1.16,0.28],[1.20,0.23],[1.24,0.21],
  [1.27,0.36],[1.30,0.44],[1.33,0.50],[1.37,0.56],[1.41,0.62],[1.45,0.70],[1.49,0.78],[1.52,0.82],[1.56,0.85],
  [1.60,0.72],[1.64,0.72],[1.68,0.75],[1.72,0.78],[1.76,0.82],[1.80,0.86],[1.84,0.87],[1.88,0.86],[1.93,0.85],
  [1.97,0.86],[2.02,0.84],[2.08,0.84],[2.13,0.88],[2.18,0.91],[2.24,0.94],[2.29,0.96],[2.34,0.98],[2.39,1.00],
  [2.44,1.08],[2.52,1.02],[2.64,1.18],[2.95,1.12],[3.01,1.12],[3.11,1.12],
  [-2.24,-1.27],[-2.20,-1.23],[-2.16,-1.21],[-2.12,-1.19],[-2.07,-1.18],[-2.02,-1.16],[-1.97,-1.16],[-1.92,-1.15],
  [-1.87,-1.15],[-1.82,-1.14],[-1.78,-1.13],[-1.74,-1.11],[-1.70,-1.09],[-1.66,-1.07],[-1.62,-1.06],[-1.59,-0.73],
  [-1.54,-1.04],[-1.50,-1.02],[-1.46,-1.00],[-1.42,-0.97],[-1.38,-0.95],[-1.34,-0.93],[-1.30,-0.90],[-1.26,-0.86],
  [-1.22,-0.82],[-1.18,-0.78],[-1.14,-0.75],[-1.10,-0.71],[-1.065,-0.69],[-1.00,-0.89],[-0.965,-0.90],[-0.935,-0.91],
  [-0.885,-1.11],[-0.855,-1.08],[-0.82,-1.04],[-0.785,-1.01],[-0.755,-0.98],[-0.695,-0.77],[-0.665,-0.74],[-0.635,-0.76],
  [-0.60,-0.80],[-0.565,-0.84],[-0.535,-0.86],[-0.465,-0.53],[-0.435,-0.53],[-0.405,-0.55],[-0.375,-0.60],[-0.345,-0.65],
  [-0.285,-0.51],[-0.255,-0.44],[-0.225,-0.37],[-0.195,-0.28],[-0.165,-0.23],[-0.135,-0.21],[-0.105,-0.21],[-0.075,-0.23],
  [-0.045,-0.26],[-0.015,-0.27],[0.04,-0.46],[0.085,-0.26],[0.12,-0.23],[0.16,-0.20],[0.20,-0.18],[0.24,-0.17],
  [0.28,-0.18],[0.32,-0.18],[0.36,-0.16],[0.40,-0.14],[0.44,-0.11],[0.48,-0.07],[0.52,-0.05],[0.56,-0.03],
  [0.595,0.03],[0.625,0.10],[0.66,0.12],[0.70,0.13],[0.74,0.14],[0.78,0.15],[0.82,0.16],[0.86,0.19],[0.90,0.25],
  [0.94,0.27],[0.98,0.23],[1.02,0.21],[1.06,0.22],[1.10,0.27],[1.14,0.29],[1.18,0.25],[1.22,0.22],[1.285,0.40],
  [1.315,0.47],[1.35,0.53],[1.39,0.59],[1.43,0.66],[1.47,0.74],[1.505,0.80],[1.54,0.84],[1.62,0.72],[1.66,0.73],
  [1.70,0.76],[1.74,0.80],[1.78,0.84],[1.82,0.86],[1.86,0.87],[1.90,0.85],[1.95,0.85],[2.00,0.85],[2.05,0.84],
  [2.10,0.86],[2.155,0.89],[2.21,0.92]
];

// middle row: posterior mean mu-hat(x), b = 1
const muHatConf = [
  [-3.14,0.23],[-2.75,0.23],[-2.67,0.24],[-2.62,0.25],[-2.57,0.27],
  [-2.27,0.41],[-2.23,0.41],[-2.19,0.40],[-2.15,0.39],[-2.11,0.37],[-2.07,0.35],[-2.03,0.36],[-1.99,0.36],
  [-1.95,0.34],[-1.91,0.32],[-1.87,0.33],[-1.83,0.35],[-1.79,0.35],[-1.75,0.36],[-1.71,0.37],[-1.67,0.34],
  [-1.63,0.32],[-1.59,0.38],[-1.57,0.43],[-1.54,0.38],[-1.50,0.31],[-1.46,0.30],[-1.42,0.29],[-1.38,0.28],
  [-1.34,0.27],[-1.30,0.26],[-1.26,0.28],[-1.22,0.30],[-1.18,0.30],[-1.14,0.31],[-1.10,0.31],[-1.06,0.29],
  [-1.02,0.27],
  [-1.04,-0.13],[-1.00,-0.14],[-0.96,-0.16],[-0.93,-0.20],[-0.90,-0.28],[-0.86,-0.30],[-0.82,-0.32],[-0.78,-0.33],
  [-0.74,-0.34],[-0.70,-0.35],[-0.66,-0.37],[-0.62,-0.39],[-0.58,-0.42],[-0.55,-0.44],[-0.51,-0.40],[-0.47,-0.37],
  [-0.43,-0.35],[-0.39,-0.36],[-0.35,-0.39],[-0.31,-0.42],[-0.28,-0.36],[-0.24,-0.29],[-0.20,-0.25],[-0.16,-0.21],
  [-0.12,-0.18],[-0.08,-0.17],[-0.04,-0.22],[-0.01,-0.27],[0.02,-0.31],[0.05,-0.33],[0.09,-0.30],[0.13,-0.27],
  [0.17,-0.25],[0.21,-0.25],[0.25,-0.24],[0.29,-0.24],[0.33,-0.23],[0.37,-0.22],[0.41,-0.22],[0.45,-0.22],
  [0.49,-0.23],[0.53,-0.24],[0.57,-0.22],[0.61,-0.18],[0.65,-0.15],[0.69,-0.11],[0.73,-0.07],[0.77,-0.04],
  [0.81,-0.02],[0.85,0.00],[0.89,0.01],[0.93,0.03],[0.97,0.03],[1.01,0.01],[1.05,-0.03],[1.09,-0.05],
  [1.13,-0.07],[1.17,-0.09],[1.21,-0.08],[1.25,-0.02],[1.29,0.03],[1.33,0.08],[1.37,0.13],[1.41,0.17],
  [1.45,0.20],[1.49,0.23],[1.52,0.36],[1.55,0.38],[1.59,0.39],[1.63,0.39],[1.67,0.38],[1.71,0.32],[1.75,0.30],
  [1.79,0.35],[1.83,0.39],[1.87,0.43],[1.91,0.44],[1.96,0.44],[2.01,0.43],[2.06,0.43],[2.11,0.44],[2.15,0.46],
  [2.19,0.53],[2.24,0.54],[2.29,0.55],[2.34,0.58],[2.38,0.60],[2.44,0.62],[2.52,0.65],[2.66,0.64],[2.95,0.63],
  [3.01,0.63],[3.11,0.51],
  [-2.25,0.41],[-2.21,0.40],[-2.17,0.39],[-2.13,0.38],[-2.09,0.36],[-2.05,0.35],[-2.01,0.36],[-1.97,0.35],
  [-1.93,0.33],[-1.89,0.32],[-1.85,0.34],[-1.81,0.35],[-1.77,0.35],[-1.73,0.37],[-1.69,0.36],[-1.65,0.33],
  [-1.61,0.35],[-1.555,0.41],[-1.52,0.34],[-1.48,0.30],[-1.44,0.29],[-1.40,0.28],[-1.36,0.27],[-1.32,0.26],
  [-1.28,0.27],[-1.24,0.29],[-1.20,0.30],[-1.16,0.30],[-1.12,0.31],[-1.08,0.30],[-1.04,0.28],
  [-1.02,-0.13],[-0.98,-0.15],[-0.945,-0.18],[-0.915,-0.24],[-0.88,-0.29],[-0.84,-0.31],[-0.80,-0.32],[-0.76,-0.33],
  [-0.72,-0.34],[-0.68,-0.36],[-0.64,-0.38],[-0.60,-0.40],[-0.565,-0.43],[-0.53,-0.42],[-0.49,-0.38],[-0.45,-0.36],
  [-0.41,-0.35],[-0.37,-0.37],[-0.33,-0.40],[-0.295,-0.39],[-0.26,-0.32],[-0.22,-0.27],[-0.18,-0.23],[-0.14,-0.19],
  [-0.10,-0.17],[-0.06,-0.19],[-0.025,-0.24],[0.005,-0.29],[0.035,-0.32],[0.07,-0.32],[0.11,-0.28],[0.15,-0.26],
  [0.19,-0.25],[0.23,-0.24],[0.27,-0.24],[0.31,-0.23],[0.35,-0.22],[0.39,-0.22],[0.43,-0.22],[0.47,-0.22],
  [0.51,-0.23],[0.55,-0.23],[0.59,-0.20],[0.63,-0.16],[0.67,-0.13],[0.71,-0.09],[0.75,-0.05],[0.79,-0.03],
  [0.83,-0.01],[0.87,0.00],[0.91,0.02],[0.95,0.03],[0.99,0.02],[1.03,-0.01],[1.07,-0.04],[1.11,-0.06],
  [1.15,-0.08],[1.19,-0.08],[1.23,-0.05],[1.27,0.00],[1.31,0.05],[1.35,0.10],[1.39,0.15],[1.43,0.18],
  [1.47,0.21],[1.505,0.30],[1.535,0.37],[1.57,0.38],[1.61,0.39],[1.65,0.38],[1.69,0.35],[1.73,0.31],
  [1.77,0.32],[1.81,0.37],[1.85,0.41],[1.89,0.43],[1.935,0.44],[1.985,0.43],[2.035,0.43],[2.085,0.43],
  [2.13,0.45],[2.17,0.49],[2.215,0.53],[2.265,0.54],[2.315,0.56],[2.36,0.59],[2.41,0.61]
];

// bottom row: posterior mean tau-hat(x), b = 0
const tauHatNoConf = [
  [-3.13,0.10],[-2.74,0.10],[-2.66,0.11],[-2.62,0.09],[-2.56,0.07],
  [-2.27,0.02],[-2.22,0.01],[-2.17,0.00],[-2.12,-0.01],[-2.07,-0.01],[-2.02,-0.02],[-1.97,-0.03],[-1.92,-0.04],
  [-1.87,-0.04],[-1.82,-0.05],[-1.77,-0.05],[-1.72,-0.06],[-1.67,-0.06],[-1.62,-0.06],[-1.57,-0.06],[-1.52,-0.06],
  [-1.47,-0.06],[-1.42,-0.06],[-1.37,-0.05],[-1.33,-0.02],[-1.30,0.02],[-1.27,0.07],[-1.24,0.11],[-1.21,0.16],
  [-1.17,0.18],[-1.13,0.19],[-1.09,0.20],
  [-1.04,-0.18],[-1.02,-0.26],[-0.98,-0.26],[-0.94,-0.27],[-0.90,-0.27],[-0.87,-0.20],[-0.84,-0.28],[-0.80,-0.28],
  [-0.76,-0.29],[-0.72,-0.29],[-0.68,-0.30],[-0.64,-0.30],[-0.60,-0.30],[-0.56,-0.29],[-0.52,-0.27],[-0.48,-0.23],
  [-0.46,-0.14],[-0.44,-0.06],[-0.42,0.03],[-0.40,0.10],[-0.38,0.17],[-0.37,0.13],[-0.35,0.05],[-0.33,-0.03],
  [-0.31,-0.10],[-0.28,-0.15],[-0.24,-0.16],[-0.20,-0.17],[-0.16,-0.17],[-0.12,-0.17],[-0.08,-0.17],[-0.04,-0.17],
  [0.00,-0.17],[0.04,-0.17],[0.08,-0.17],[0.12,-0.17],[0.16,-0.17],[0.20,-0.17],[0.24,-0.17],[0.28,-0.17],
  [0.32,-0.16],[0.36,-0.19],[0.40,-0.21],[0.44,-0.20],[0.48,-0.16],[0.51,-0.09],[0.54,-0.02],[0.57,0.04],
  [0.61,0.05],[0.65,0.06],[0.69,0.06],[0.73,0.06],[0.77,0.05],[0.81,0.04],[0.85,0.01],[0.89,-0.02],[0.93,-0.03],
  [0.97,0.00],[1.01,0.04],[1.05,0.06],[1.09,0.07],[1.13,0.10],[1.17,0.12],[1.21,0.14],[1.25,0.16],[1.29,0.18],
  [1.33,0.20],[1.37,0.22],[1.41,0.24],[1.45,0.25],[1.48,0.16],[1.50,0.08],[1.53,0.03],[1.57,0.02],[1.61,0.06],
  [1.64,0.10],[1.67,0.14],[1.70,0.18],[1.74,0.21],[1.78,0.20],[1.82,0.19],[1.87,0.19],[1.92,0.20],[1.97,0.19],
  [2.02,0.20],[2.08,0.20],[2.13,0.19],[2.18,0.20],[2.24,0.20],[2.30,0.19],[2.36,0.19],[2.41,0.20],[2.46,0.27],
  [2.52,0.30],[2.64,0.30],[2.67,0.46],[2.96,0.46],[3.02,0.46],[3.11,0.46],
  [-2.245,0.015],[-2.195,0.005],[-2.145,-0.005],[-2.095,-0.01],[-2.045,-0.015],[-1.995,-0.025],[-1.945,-0.035],
  [-1.895,-0.04],[-1.845,-0.045],[-1.795,-0.05],[-1.745,-0.055],[-1.695,-0.06],[-1.645,-0.06],[-1.595,-0.06],
  [-1.545,-0.06],[-1.495,-0.06],[-1.445,-0.06],[-1.395,-0.055],[-1.35,-0.035],[-1.315,0.00],[-1.285,0.045],
  [-1.255,0.09],[-1.225,0.135],[-1.19,0.17],[-1.15,0.185],[-1.11,0.195],
  [-1.03,-0.22],[-1.00,-0.26],[-0.96,-0.265],[-0.92,-0.27],[-0.885,-0.24],[-0.855,-0.24],[-0.82,-0.28],[-0.78,-0.285],
  [-0.74,-0.29],[-0.70,-0.295],[-0.66,-0.30],[-0.62,-0.30],[-0.58,-0.295],[-0.54,-0.28],[-0.50,-0.25],[-0.47,-0.185],
  [-0.45,-0.10],[-0.43,-0.015],[-0.41,0.065],[-0.39,0.135],[-0.36,0.09],[-0.34,0.01],[-0.32,-0.065],[-0.295,-0.125],
  [-0.26,-0.155],[-0.22,-0.165],[-0.18,-0.17],[-0.14,-0.17],[-0.10,-0.17],[-0.06,-0.17],[-0.02,-0.17],[0.02,-0.17],
  [0.06,-0.17],[0.10,-0.17],[0.14,-0.17],[0.18,-0.17],[0.22,-0.17],[0.26,-0.17],[0.30,-0.165],[0.34,-0.175],
  [0.38,-0.20],[0.42,-0.205],[0.46,-0.18],[0.495,-0.125],[0.525,-0.055],[0.555,0.01],[0.59,0.045],[0.63,0.055],
  [0.67,0.06],[0.71,0.06],[0.75,0.055],[0.79,0.045],[0.83,0.025],[0.87,-0.005],[0.91,-0.025],[0.95,-0.015],
  [0.99,0.02],[1.03,0.05],[1.07,0.065],[1.11,0.085],[1.15,0.11],[1.19,0.13],[1.23,0.15],[1.27,0.17],[1.31,0.19],
  [1.35,0.21],[1.39,0.23],[1.43,0.245],[1.465,0.20],[1.49,0.12],[1.515,0.055],[1.55,0.025],[1.59,0.04],[1.625,0.08],
  [1.655,0.12],[1.685,0.16],[1.72,0.195],[1.76,0.205],[1.80,0.195],[1.845,0.19],[1.895,0.195],[1.945,0.195],
  [1.995,0.195],[2.05,0.20],[2.105,0.195],[2.155,0.195],[2.21,0.20],[2.27,0.195],[2.33,0.19],[2.385,0.195]
];

// bottom row: posterior mean tau-hat(x), b = 1
const tauHatConf = [
  [-3.13,1.19],[-2.75,1.19],[-2.68,1.19],[-2.63,1.19],[-2.56,1.02],
  [-2.25,0.88],[-2.21,0.89],[-2.17,0.90],[-2.13,0.90],[-2.09,0.90],[-2.05,0.90],[-2.01,0.90],[-1.97,0.90],
  [-1.93,0.90],[-1.89,0.89],[-1.85,0.89],[-1.81,0.88],[-1.77,0.85],[-1.74,0.82],[-1.70,0.81],[-1.66,0.80],
  [-1.62,0.79],[-1.58,0.77],[-1.55,0.73],[-1.51,0.72],[-1.47,0.72],[-1.43,0.71],[-1.39,0.71],[-1.35,0.71],
  [-1.31,0.70],[-1.27,0.70],[-1.23,0.70],[-1.19,0.70],[-1.15,0.70],[-1.11,0.70],[-1.07,0.70],[-1.03,0.70],
  [-1.05,0.22],[-1.01,0.22],[-0.97,0.23],[-0.93,0.25],[-0.90,0.27],[-0.88,0.33],[-0.86,0.36],[-0.84,0.28],
  [-0.86,-0.02],[-0.82,-0.04],[-0.78,-0.05],[-0.74,-0.05],[-0.70,-0.06],[-0.66,-0.06],[-0.62,-0.06],[-0.58,-0.06],
  [-0.54,-0.06],[-0.50,-0.05],[-0.46,-0.05],[-0.42,-0.05],[-0.38,-0.05],[-0.34,-0.04],[-0.31,-0.07],[-0.28,-0.17],
  [-0.25,-0.20],[-0.22,-0.28],[-0.19,-0.33],[-0.15,-0.36],[-0.11,-0.38],[-0.07,-0.39],[-0.03,-0.41],[0.01,-0.43],
  [0.05,-0.45],[0.09,-0.48],[0.13,-0.51],[0.17,-0.53],[0.21,-0.54],[0.25,-0.55],[0.29,-0.56],[0.33,-0.57],
  [0.36,-0.66],[0.37,-0.72],[0.41,-0.72],[0.45,-0.72],[0.49,-0.71],[0.53,-0.71],[0.57,-0.70],[0.61,-0.69],
  [0.65,-0.68],[0.69,-0.67],[0.73,-0.66],[0.77,-0.66],[0.80,-0.70],[0.83,-0.76],[0.82,-0.87],[0.83,-1.01],
  [0.87,-1.02],[0.91,-1.04],[0.95,-1.05],[0.99,-1.02],[1.03,-1.00],[1.07,-1.04],[1.11,-1.09],[1.15,-1.09],
  [1.19,-1.09],[1.23,-1.08],[1.27,-1.08],[1.31,-1.08],[1.35,-1.08],[1.39,-1.09],[1.43,-1.11],[1.47,-1.13],
  [1.51,-1.15],[1.55,-1.16],[1.59,-1.17],[1.63,-1.18],[1.67,-1.18],[1.71,-1.18],[1.75,-1.19],[1.79,-1.19],
  [1.83,-1.20],[1.87,-1.21],[1.89,-1.28],
  [1.92,-1.46],[1.97,-1.49],[2.02,-1.51],[2.07,-1.53],[2.11,-1.54],[2.16,-1.55],[2.20,-1.56],[2.24,-1.57],
  [2.28,-1.58],[2.32,-1.60],[2.36,-1.57],[2.40,-1.53],[2.44,-1.51],[2.51,-1.40],[2.67,-1.39],[2.69,-1.38],
  [2.95,-1.39],[3.01,-1.39],[3.11,-1.39],
  [-2.23,0.885],[-2.19,0.895],[-2.15,0.90],[-2.11,0.90],[-2.07,0.90],[-2.03,0.90],[-1.99,0.90],[-1.95,0.90],
  [-1.91,0.895],[-1.87,0.89],[-1.83,0.885],[-1.79,0.865],[-1.755,0.835],[-1.72,0.815],[-1.68,0.805],[-1.64,0.795],
  [-1.60,0.78],[-1.565,0.75],[-1.53,0.725],[-1.49,0.72],[-1.45,0.715],[-1.41,0.71],[-1.37,0.71],[-1.33,0.705],
  [-1.29,0.70],[-1.25,0.70],[-1.21,0.70],[-1.17,0.70],[-1.13,0.70],[-1.09,0.70],[-1.05,0.70],
  [-1.03,0.22],[-0.99,0.225],[-0.95,0.24],[-0.915,0.26],[-0.89,0.30],[-0.87,0.345],
  [-0.84,-0.03],[-0.80,-0.045],[-0.76,-0.05],[-0.72,-0.055],[-0.68,-0.06],[-0.64,-0.06],[-0.60,-0.06],[-0.56,-0.06],
  [-0.52,-0.055],[-0.48,-0.05],[-0.44,-0.05],[-0.40,-0.05],[-0.36,-0.045],[-0.325,-0.055],[-0.295,-0.12],[-0.265,-0.185],
  [-0.235,-0.24],[-0.205,-0.305],[-0.17,-0.345],[-0.13,-0.37],[-0.09,-0.385],[-0.05,-0.40],[-0.01,-0.42],[0.03,-0.44],
  [0.07,-0.465],[0.11,-0.495],[0.15,-0.52],[0.19,-0.535],[0.23,-0.545],[0.27,-0.555],[0.31,-0.565],[0.345,-0.61],
  [0.39,-0.72],[0.43,-0.72],[0.47,-0.715],[0.51,-0.71],[0.55,-0.705],[0.59,-0.695],[0.63,-0.685],[0.67,-0.675],
  [0.71,-0.665],[0.75,-0.66],[0.785,-0.68],[0.815,-0.73],
  [0.85,-1.015],[0.89,-1.03],[0.93,-1.045],[0.97,-1.035],[1.01,-1.01],[1.05,-1.02],[1.09,-1.065],[1.13,-1.09],
  [1.17,-1.09],[1.21,-1.085],[1.25,-1.08],[1.29,-1.08],[1.33,-1.08],[1.37,-1.085],[1.41,-1.10],[1.45,-1.12],
  [1.49,-1.14],[1.53,-1.155],[1.57,-1.165],[1.61,-1.175],[1.65,-1.18],[1.69,-1.18],[1.73,-1.185],[1.77,-1.19],
  [1.81,-1.195],[1.85,-1.205],
  [1.945,-1.475],[1.995,-1.50],[2.045,-1.52],[2.09,-1.535],[2.135,-1.545],[2.18,-1.555],[2.22,-1.565],[2.26,-1.575],
  [2.30,-1.59],[2.34,-1.585],[2.38,-1.55],[2.42,-1.52]
];

// ── Helpers ───────────────────────────────────────────────────────────
const FONT = '"Liberation Sans", Arial, sans-serif';
const GRID = '#dedede';
const toXY = arr => arr.map(([x, y]) => ({ x, y }));
const fmt = v => (v < 0 ? '\u2212' + Math.abs(v) : String(v));

const zeroLine = {
  id: 'zeroLine',
  beforeDatasetsDraw(chart) {
    const { ctx, chartArea: a, scales: { y } } = chart;
    const py = y.getPixelForValue(0);
    ctx.save();
    ctx.strokeStyle = '#000';
    ctx.lineWidth = 1.7;
    ctx.beginPath();
    ctx.moveTo(a.left, py);
    ctx.lineTo(a.right, py);
    ctx.stroke();
    ctx.restore();
  }
};

function dots(data, color, order) {
  return { data: toXY(data), backgroundColor: color, borderWidth: 0, pointRadius: 6, pointHoverRadius: 6, order };
}

function panel({ left, top, w, h, yW, xH, xPad, xr, yr, yTicks, showY, datasets }) {
  const box = document.createElement('div');
  box.className = 'panel';
  Object.assign(box.style, { left: (left - yW) + 'px', top: top + 'px', width: (w + yW) + 'px', height: (h + xH) + 'px' });
  const cv = document.createElement('canvas');
  box.appendChild(cv);
  document.body.appendChild(box);

  new Chart(cv.getContext('2d'), {
    type: 'scatter',
    data: { datasets },
    options: {
      responsive: true,
      maintainAspectRatio: false,
      animation: false,
      events: [],
      layout: { padding: 0, autoPadding: false },
      plugins: { legend: { display: false }, tooltip: { enabled: false } },
      scales: {
        x: {
          type: 'linear', min: xr[0], max: xr[1],
          afterBuildTicks: s => { s.ticks = xTicks.map(v => ({ value: v })); },
          afterFit: s => { s.height = xH; s.paddingLeft = 0; s.paddingRight = 0; },
          grid: { color: GRID, lineWidth: 1.4, drawTicks: false },
          border: { display: false },
          ticks: { color: '#000', font: { family: FONT, size: 23 }, padding: xPad, maxRotation: 0, autoSkip: false, callback: fmt },
        },
        y: {
          type: 'linear', min: yr[0], max: yr[1],
          afterBuildTicks: s => { s.ticks = yTicks.map(v => ({ value: v })); },
          afterFit: s => { s.width = yW; s.paddingTop = 0; s.paddingBottom = 0; },
          grid: { color: GRID, lineWidth: 1.4, drawTicks: false },
          border: { display: false },
          ticks: { display: showY, color: '#000', font: { family: FONT, size: 23 }, padding: 13, autoSkip: false, callback: fmt },
        },
      },
    },
    plugins: [zeroLine],
  });
}

// ── Panels ────────────────────────────────────────────────────────────
const black = 'rgba(0,0,0,0.5)';
const orange = 'rgba(255,140,0,0.5)';
const blue = 'rgba(24,116,205,0.5)';
const green = 'rgba(34,139,34,0.5)';

// row 1: z against x
const r1 = { top: 33, w: 497, h: 315, xH: 50, xPad: 8, xr: [-3.445, 3.44], yr: [-4.06, 2.46], yTicks: zTicks };
panel({ ...r1, left: 78, yW: 60, showY: true, datasets: [dots(zNoConf, black, 0)] });
panel({ ...r1, left: 588, yW: 0, showY: false, datasets: [dots(zConf, black, 0)] });

// row 2: mu(x)
const r2 = { top: 535, w: 496, h: 261, xH: 40, xPad: 2, xr: [-3.46, 3.46], yr: [-1.809, 1.723], yTicks: muTicks };
panel({ ...r2, left: 84, yW: 60, showY: true, datasets: [dots(trueMu, blue, 0), dots(muHatNoConf, orange, 1)] });
panel({ ...r2, left: 592, yW: 0, showY: false, datasets: [dots(trueMu, blue, 0), dots(muHatConf, orange, 1)] });

// row 3: tau(x)
const r3 = { top: 918, w: 493, h: 320, xH: 40, xPad: 0, xr: [-3.445, 3.445], yr: [-1.795, 1.327], yTicks: tauTicks };
panel({ ...r3, left: 91, yW: 60, showY: true, datasets: [dots(tauHatNoConf, green, 0)] });
panel({ ...r3, left: 595, yW: 0, showY: false, datasets: [dots(tauHatConf, green, 0)] });
</script>
</body>
</html>
